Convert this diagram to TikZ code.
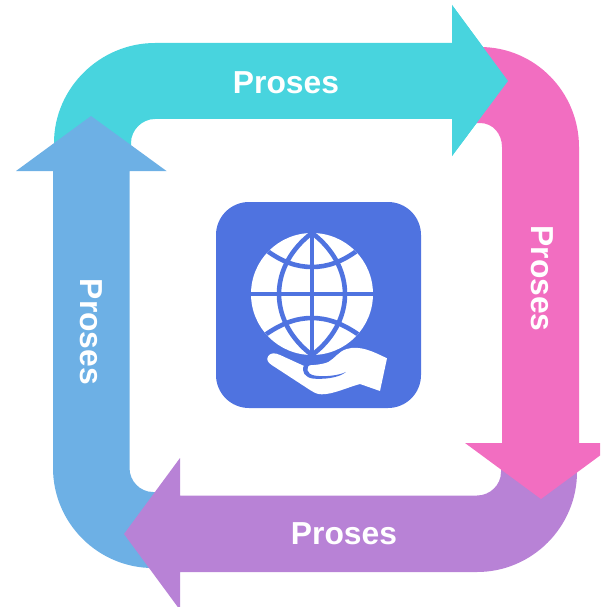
\documentclass[tikz,border=0pt]{standalone}
\usepackage{fontspec}
\setmainfont{Liberation Sans}
\definecolor{cteal}{HTML}{48D4DE}
\definecolor{cpink}{HTML}{F26EC1}
\definecolor{cpurple}{HTML}{B882D6}
\definecolor{cblue}{HTML}{6DB0E5}
\definecolor{cicon}{HTML}{4F73E0}
\tikzset{
  lbl/.style={text=white,font=\fontsize{31.8}{36}\selectfont\bfseries,inner sep=0pt},
  gridline/.style={draw=cicon,line width=4.6pt}
}
\begin{document}
\begin{tikzpicture}[x=1pt,y=-1pt]
\useasboundingbox (0,0) rectangle (600,607);
\clip (0,0) rectangle (600,607);
% teal
\fill[cteal] (54,150) -- (54,143) .. controls (54,88) and (100,43) .. (155,43) -- (452,43) -- (452,5) -- (508,81) -- (452,156) -- (452,119) -- (155,119) .. controls (142,119) and (131,130) .. (131,143) -- (131,150) -- cycle;
% blue
\fill[cblue] (165,492) -- (153,492) .. controls (140,492) and (129.5,481) .. (129.5,468) -- (129.5,171) -- (166.5,171) -- (91,116) -- (16,171) -- (53,171) -- (53,468) .. controls (53,523) and (98,568) .. (153,568) -- (165,568) -- cycle;
% purple
\fill[cpurple] (577,465) -- (577,472) .. controls (577,527) and (532,572) .. (477,572) -- (180,572) -- (180,610) -- (124,534) -- (180,458) -- (180,495.5) -- (477,495.5) .. controls (490,495.5) and (501,485) .. (501,472) -- (501,465) -- cycle;
% pink
\fill[cpink] (470,47) -- (480,47) .. controls (535,47) and (579,92) .. (579,147) -- (579,443) -- (617,443) -- (541,499) -- (465,443) -- (502,443) -- (502,147) .. controls (502,134) and (493,123) .. (480,123) -- (470,123) -- cycle;
% teal head on top of pink
\fill[cteal] (452,5) -- (508,81) -- (452,156) -- cycle;
% icon
\fill[cicon,rounded corners=33pt] (216,202) rectangle (421,408);
\begin{scope}
  \fill[white] (312,294) circle[radius=61];
  \clip (312,294) circle[radius=61];
  \draw[gridline] (312,225) -- (312,363);
  \draw[gridline] (245,294) -- (379,294);
  \draw[gridline] (312,233) .. controls (292,248) and (279,270) .. (279,294) .. controls (279,318) and (292,340) .. (312,355);
  \draw[gridline] (312,233) .. controls (332,248) and (345,270) .. (345,294) .. controls (345,318) and (332,340) .. (312,355);
  \draw[gridline] (266,250) .. controls (282,262) and (297,267) .. (312,267) .. controls (327,267) and (342,262) .. (358,250);
  \draw[gridline] (265,335) .. controls (282,323) and (297,318) .. (312,318) .. controls (327,318) and (342,323) .. (359,335);
\end{scope}
% hand
\begin{scope}[shift={(200,190)},x=0.3333pt,y=-0.3333pt]
  \fill[white] (561,505) -- (540,603) -- (480,582) .. controls (440,593) and (400,613) .. (365,613) .. controls (350,613) and (342,607) .. (330,600) -- (215,525) .. controls (203,517) and (198,508) .. (205,498) .. controls (212,488) and (225,488) .. (240,495) -- (310,527) .. controls (330,526) and (365,525) .. (385,516) .. controls (405,505) and (415,485) .. (440,477) .. controls (480,465) and (520,485) .. (561,505) -- cycle;
  \fill[cicon] (332,522) .. controls (318,530) and (316,552) .. (345,557) .. controls (375,561) and (415,557) .. (438,546) .. controls (415,565) and (370,568) .. (340,566) .. controls (315,563) and (303,545) .. (312,526) -- cycle;
\end{scope}
% labels
\node[lbl] (t1) at (286,82.5) {Proses};
\node[lbl,rotate=-90] (t2) at (542,278.5) {Proses};
\node[lbl] (t3) at (344,533.5) {Proses};
\node[lbl,rotate=-90] (t4) at (91.5,332) {Proses};
\end{tikzpicture}
\end{document}
